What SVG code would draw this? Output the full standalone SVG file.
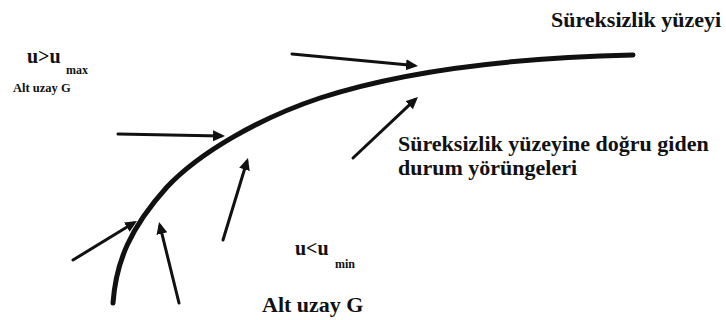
<svg xmlns="http://www.w3.org/2000/svg" width="726" height="320" viewBox="0 0 726 320">
<style>
.t{font-family:"Liberation Serif","Times New Roman",serif;font-weight:bold;fill:#111}
.a{stroke:#111;stroke-width:3;fill:none;stroke-linecap:round;marker-end:url(#ah)}
</style>
<defs>
<marker id="ah" markerUnits="userSpaceOnUse" markerWidth="14" markerHeight="12" refX="8" refY="5.5" orient="auto">
<path d="M0,0 L12,5.5 L0,11 z" fill="#111"/>
</marker>
</defs>
<rect width="726" height="320" fill="#fff"/>
<g id="surface">
<path d="M113,303 C116,262 130,228 167,187 C200,152 260,118 320,98 C400,72 500,58 633,55" stroke="#111" stroke-width="5" fill="none" stroke-linecap="round"/>
</g>
<g id="connectors">
<line class="a" x1="292" y1="54" x2="414" y2="65.6"/>
<line class="a" x1="118" y1="134" x2="221" y2="136"/>
<line class="a" x1="353" y1="158" x2="415" y2="99.7"/>
<line class="a" x1="223" y1="240" x2="246.8" y2="161.8"/>
<line class="a" x1="73" y1="260" x2="133.6" y2="223"/>
<line class="a" x1="179" y1="303" x2="160" y2="225.9"/>
</g>
<g id="label-surface">
<text class="t" x="551" y="27" font-size="22">Süreksizlik yüzeyi</text>
</g>
<g id="label-trajectories">
<text class="t" x="398" y="151" font-size="22">Süreksizlik yüzeyine doğru giden</text>
<text class="t" x="398" y="175" font-size="22">durum yörüngeleri</text>
</g>
<g id="label-umax">
<text class="t" x="27" y="63" font-size="20">u&gt;u</text>
<text class="t" x="66" y="74" font-size="12">max</text>
<text class="t" x="13" y="92" font-size="12.5">Alt uzay G</text>
</g>
<g id="label-umin">
<text class="t" x="295" y="255" font-size="20">u&lt;u</text>
<text class="t" x="335" y="268" font-size="12">min</text>
<text class="t" x="262" y="312" font-size="22">Alt uzay G</text>
</g>
</svg>
